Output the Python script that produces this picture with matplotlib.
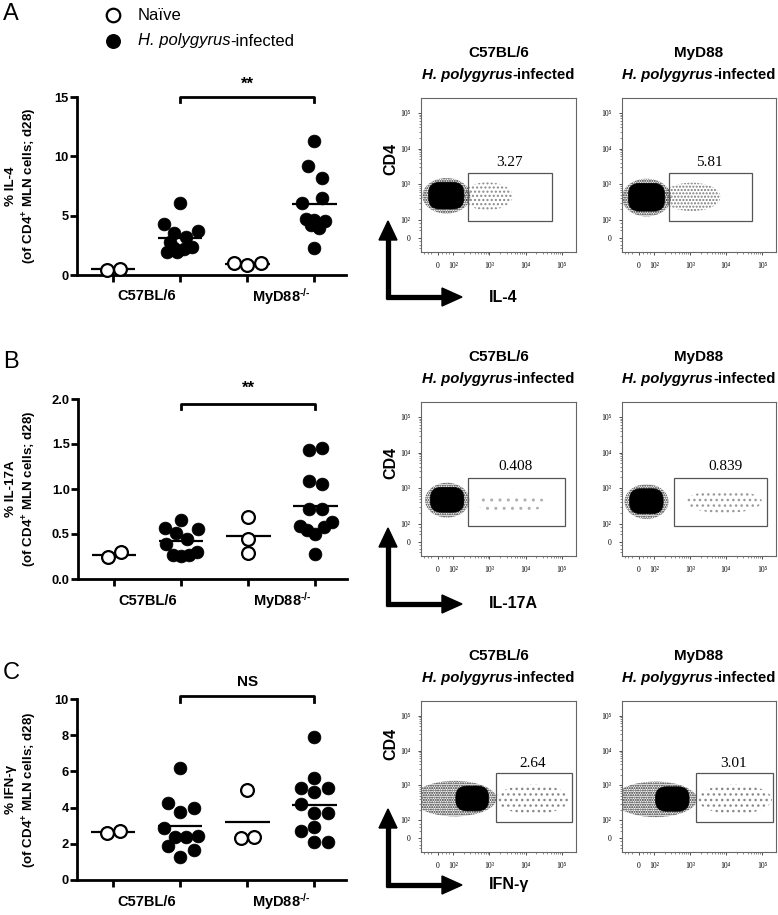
import matplotlib
matplotlib.use('Agg')
import matplotlib.pyplot as plt
from matplotlib.patches import Ellipse, Rectangle, Polygon, FancyBboxPatch
import numpy as np

plt.rcParams['font.family'] = ['Liberation Sans', 'DejaVu Sans']
plt.rcParams['mathtext.fontset'] = 'custom'
plt.rcParams['mathtext.rm'] = 'Liberation Sans:bold'
plt.rcParams['mathtext.it'] = 'Liberation Sans:bold:italic'
plt.rcParams['mathtext.bf'] = 'Liberation Sans:bold'
plt.rcParams['hatch.linewidth'] = 1.0

W, H = 778, 915

# ---------------- data ----------------
categories = ['C57BL/6', 'MyD88$^{\\text{-/-}}$']
legend_labels = ['Naïve', 'H. polygyrus', '-infected']

il4_c57_naive = [0.42, 0.53]
il4_c57_inf = [6.1, 4.3, 3.7, 3.5, 3.2, 2.8, 2.4, 2.3, 2.2, 1.9, 1.9]
il4_myd_naive = [1.0, 0.85, 1.05]
il4_myd_inf = [11.3, 9.2, 8.15, 6.45, 6.1, 4.75, 4.6, 4.55, 4.25, 4.0, 2.25]

il17_c57_naive = [0.24, 0.30]
il17_c57_inf = [0.66, 0.57, 0.555, 0.515, 0.45, 0.39, 0.30, 0.27, 0.255, 0.265]
il17_myd_naive = [0.69, 0.45, 0.29]
il17_myd_inf = [1.43, 1.46, 1.09, 1.055, 0.78, 0.78, 0.59, 0.545, 0.50, 0.58, 0.63, 0.28]

ifn_c57_naive = [2.58, 2.68]
ifn_c57_inf = [6.17, 4.24, 3.96, 3.77, 2.86, 2.4, 2.4, 2.45, 1.88, 1.66, 1.29]
ifn_myd_naive = [5.0, 2.3, 2.39]
ifn_myd_inf = [7.92, 5.62, 5.07, 5.1, 4.84, 4.2, 3.71, 3.71, 2.72, 2.94, 2.08, 2.12]

il4_ticks = [0, 5, 10, 15]
il17_ticks = [0.0, 0.5, 1.0, 1.5, 2.0]
ifn_ticks = [0, 2, 4, 6, 8, 10]

il4_sig, il17_sig, ifn_sig = '**', '**', 'NS'

gate_il4 = ['3.27', '5.81']
gate_il17 = ['0.408', '0.839']
gate_ifn = ['2.64', '3.01']
flow_strains = ['C57BL/6', 'MyD88']
flow_xlabels = ['IL-4', 'IL-17A', 'IFN-γ']
flow_ylabel = 'CD4'

# ---------------- layout helpers (positions only) ----------------
il4_jit = dict(cn=[-0.09, 0.10], ci=[0, -0.25, 0.26, -0.09, 0.09, -0.15, 0.17, -0.10, 0.06, -0.05, -0.20],
               mn=[-0.2, 0.0, 0.2], mi=[0, -0.09, 0.11, 0.11, -0.19, -0.13, 0, 0.15, -0.05, 0.07, 0])
il17_jit = dict(cn=[-0.1, 0.1], ci=[0, -0.25, 0.25, -0.08, 0.09, -0.23, 0.24, -0.12, 0, 0.12],
                mn=[0, 0, 0], mi=[-0.09, 0.1, -0.09, 0.1, -0.09, 0.1, -0.23, -0.12, 0, 0.13, 0.24, 0])
ifn_jit = dict(cn=[-0.1, 0.1], ci=[0, -0.19, 0.2, 0, -0.25, -0.08, 0.09, 0.26, -0.19, 0.2, 0],
               mn=[0, -0.1, 0.1], mi=[0, 0, -0.2, 0.2, 0, -0.2, 0, 0.2, -0.2, 0, 0, 0.2])

fig = plt.figure(figsize=(W / 100, H / 100), dpi=100)
renderer = fig.canvas.get_renderer()


def rect(x0, y0, x1, y1):
    return [x0 / W, 1 - y1 / H, (x1 - x0) / W, (y1 - y0) / H]


ov = fig.add_axes([0, 0, 1, 1], zorder=10)
ov.set_xlim(0, W)
ov.set_ylim(H, 0)
ov.axis('off')
ov.patch.set_alpha(0)


def two_part(x, y, s1, s2, size, weight, center=True):
    t1 = ov.text(x, y, s1, style='italic', ha='left', va='center', fontsize=size, fontweight=weight)
    t2 = ov.text(x, y, s2, ha='left', va='center', fontsize=size, fontweight=weight)
    w1 = t1.get_window_extent(renderer).width
    w2 = t2.get_window_extent(renderer).width
    x0 = x - (w1 + w2) / 2 if center else x
    t1.set_x(x0)
    t2.set_x(x0 + w1)


# ---------------- scatter panels ----------------
def scatter_panel(box, ylim, ticks, fmt, naive0, inf0, naive1, inf1, jit, sig, sig_y, br_top, br_end,
                  ylab):
    ax = fig.add_axes(rect(*box))
    ax.set_xlim(-0.54, 3.47)
    ax.set_ylim(*ylim)
    for s in ['top', 'right']:
        ax.spines[s].set_visible(False)
    for s in ['left', 'bottom']:
        ax.spines[s].set_linewidth(2.0)
    ax.set_xticks([0, 1, 2, 3])
    ax.set_xticklabels([])
    ax.set_yticks(ticks)
    ax.set_yticklabels([fmt.format(t) for t in ticks], fontsize=9.3, fontweight='bold')
    ax.tick_params(direction='out', length=5, width=2, pad=1)
    groups = [(naive0, jit['cn'], True), (inf0, jit['ci'], False),
              (naive1, jit['mn'], True), (inf1, jit['mi'], False)]
    for i, (vals, off, naive) in enumerate(groups):
        xs = [i + o for o in off]
        if naive:
            ax.scatter(xs, vals, s=85, facecolor='white', edgecolor='black', linewidth=1.6,
                       zorder=3, clip_on=False)
        else:
            ax.scatter(xs, vals, s=85, facecolor='black', edgecolor='black', linewidth=0.5,
                       zorder=3, clip_on=False)
        ax.hlines(np.mean(vals), i - 0.33, i + 0.33, color='black', lw=1.6, zorder=2, clip_on=False)
    ax.plot([1, 1, 3, 3], [br_end, br_top, br_top, br_end], color='black', lw=2, clip_on=False)
    ax.text(2, sig_y, sig, ha='center', va='center', fontsize=12 if sig != 'NS' else 11,
            fontweight='bold', clip_on=False)
    for i, c in enumerate(categories):
        ax.text(0.5 + 2 * i, -0.12, c, transform=ax.get_xaxis_transform(), ha='center', va='center',
                fontsize=10.5, fontweight='bold')
    cy = (box[1] + box[3]) / 2
    ov.text(22, cy, ylab, rotation=90, ha='center', va='center', fontsize=9.6, fontweight='bold',
            linespacing=1.25, multialignment='center')
    return ax


scatter_panel((77, 97, 346, 275), (0, 15), il4_ticks, '{:g}', il4_c57_naive, il4_c57_inf,
              il4_myd_naive, il4_myd_inf, il4_jit, il4_sig, 16.1, 15.0, 14.55,
              '% IL-4\n(of CD4$^{+}$ MLN cells; d28)')
scatter_panel((78, 399, 347, 579), (0, 2), il17_ticks, '{:.1f}', il17_c57_naive, il17_c57_inf,
              il17_myd_naive, il17_myd_inf, il17_jit, il17_sig, 2.12, 1.95, 1.89,
              '% IL-17A\n(of CD4$^{+}$ MLN cells; d28)')
scatter_panel((77, 699, 346, 880), (0, 10), ifn_ticks, '{:g}', ifn_c57_naive, ifn_c57_inf,
              ifn_myd_naive, ifn_myd_inf, ifn_jit, ifn_sig, 10.95, 10.18, 9.85,
              '% IFN-γ\n(of CD4$^{+}$ MLN cells; d28)')

# panel letters & legend
for letter, y in zip(['A', 'B', 'C'], [14, 362, 673]):
    ov.text(3, y, letter, ha='left', va='center', fontsize=17)
ov.scatter([113], [15], s=95, facecolor='white', edgecolor='black', linewidth=1.6)
ov.scatter([113], [41], s=95, facecolor='black', edgecolor='black')
ov.text(138, 15, legend_labels[0], ha='left', va='center', fontsize=12)
two_part(138, 41, legend_labels[1], legend_labels[2], 12, 'normal', center=False)

# ---------------- flow panels ----------------
xmaj = [1.58, 2, 3, 4, 5]
xlab = ['0', '10²', '10³', '10⁴', '10⁵']
ymaj = [1.49, 2, 3, 4, 5]
ylab_f = ['0', '10²', '10³', '10⁴', '10⁵']
minor = [k + np.log10(m) for k in (2, 3, 4) for m in range(2, 10)] + [1.2, 1.3, 1.4, 1.7, 1.8, 1.9]

# event-cloud shapes (u = decade position):
# dense core box (x0, y0, x1, y1), speckled fringe ellipse (cx, cy, w, h), gated events ellipse (cx, cy, w, h)
blob_shapes = {
    (0, 0): [(1.33, 2.30, 2.30, 3.05), (1.82, 2.67, 1.32, 1.0), (2.95, 2.66, 1.4, 0.78), '....', '#8a8a8a'],
    (0, 1): [(1.30, 2.24, 2.30, 3.02), (1.80, 2.62, 1.36, 1.06), (3.05, 2.64, 1.6, 0.8), '.....', '#7a7a7a'],
    (1, 0): [(1.38, 2.32, 2.30, 3.02), (1.84, 2.66, 1.22, 0.98), (3.6, 2.58, 1.9, 0.55), '..', '#b0b0b0'],
    (1, 1): [(1.33, 2.28, 2.26, 2.98), (1.80, 2.62, 1.22, 0.98), (3.95, 2.62, 2.1, 0.65), '...', '#9a9a9a'],
    (2, 0): [(2.08, 2.27, 2.98, 2.98), (2.05, 2.62, 2.3, 1.02), (4.2, 2.6, 2.0, 0.85), '...', '#8a8a8a'],
    (2, 1): [(2.05, 2.26, 2.98, 2.96), (2.05, 2.6, 2.3, 1.02), (4.25, 2.6, 2.05, 0.85), '...', '#8a8a8a'],
}
gate_boxes = [[(2.41, 1.95, 4.72, 3.31), (2.41, 1.95, 4.72, 3.31)],
              [(2.42, 1.94, 5.1, 3.28), (2.55, 1.94, 5.15, 3.28)],
              [(3.18, 1.95, 5.27, 3.35), (3.17, 1.95, 5.3, 3.35)]]
gate_label_x = [[3.57, 3.55], [3.72, 3.98], [4.21, 4.22]]
gate_vals = [gate_il4, gate_il17, gate_ifn]

rows_top = [98, 402, 701]
rows_bot = [252, 556, 852]
panel_x = [(421, 576), (622, 776)]
arrow_corner = [297, 604, 885]
arrow_tip = [221, 528, 809]
cd4_y = [159, 463, 744]


def rbox(ax, b, rs, **kw):
    x0, y0, x1, y1 = b
    p = FancyBboxPatch((x0 + rs, y0 + rs), (x1 - x0) - 2 * rs, (y1 - y0) - 2 * rs,
                       boxstyle=f'round,pad={rs},rounding_size={rs}', **kw)
    ax.add_patch(p)


for r in range(3):
    top, bot = rows_top[r], rows_bot[r]
    for p in range(2):
        x0, x1 = panel_x[p]
        ax = fig.add_axes(rect(x0, top, x1, bot))
        ax.set_xlim(1.12, 5.39)
        ax.set_ylim(1.09, 5.42)
        for s in ax.spines.values():
            s.set_color('#666666')
            s.set_linewidth(0.8)
        ax.set_xticks(xmaj)
        ax.set_xticklabels(xlab, family=['Liberation Serif', 'DejaVu Serif'], fontsize=5.5)
        ax.set_yticks(ymaj)
        ax.set_yticklabels(ylab_f, family=['Liberation Serif', 'DejaVu Serif'], fontsize=5.5)
        ax.set_xticks(minor, minor=True)
        ax.set_yticks(minor, minor=True)
        ax.tick_params(which='major', length=2.5, width=0.6, color='#333333', pad=5)
        ax.tick_params(which='minor', length=1.3, width=0.4, color='#333333')
        core, fringe, sparse, hatch, scol = blob_shapes[(r, p)]
        ax.add_patch(Ellipse(sparse[:2], sparse[2], sparse[3], facecolor='none', edgecolor=scol,
                             lw=0, hatch=hatch, zorder=1))
        ax.add_patch(Ellipse(fringe[:2], fringe[2], fringe[3], facecolor='none', edgecolor='#222222',
                             lw=0, hatch='.......', zorder=2))
        rbox(ax, core, 0.3, facecolor='black', edgecolor='black', lw=0.5, zorder=3)
        gx0, gy0, gx1, gy1 = gate_boxes[r][p]
        ax.add_patch(Rectangle((gx0, gy0), gx1 - gx0, gy1 - gy0, facecolor='none',
                               edgecolor='#555555', lw=0.9, zorder=4))
        ax.text(gate_label_x[r][p], 3.62, gate_vals[r][p], ha='center', va='center', fontsize=11,
                family=['Liberation Serif', 'DejaVu Serif'])
        cx = (x0 + x1) / 2
        ov.text(cx, top - 45, flow_strains[p], ha='center', va='center', fontsize=11, fontweight='bold')
        two_part(cx, top - 23, legend_labels[1], legend_labels[2], 10.8, 'bold')

    # L-shaped arrow
    xc, yc = 388, arrow_corner[r]
    ov.plot([xc, xc], [yc + 2, arrow_tip[r] + 16], color='black', lw=3.8, solid_capstyle='butt')
    ov.plot([xc - 1.9, 444], [yc, yc], color='black', lw=3.8, solid_capstyle='butt')
    ov.add_patch(Polygon([(xc - 9, arrow_tip[r] + 19), (xc + 9, arrow_tip[r] + 19), (xc, arrow_tip[r])],
                         closed=True, color='black'))
    ov.add_patch(Polygon([(442, yc - 9), (442, yc + 9), (462, yc)], closed=True, color='black'))
    ov.text(489, yc, flow_xlabels[r], ha='left', va='center', fontsize=11.5, fontweight='bold')
    ov.text(391, cd4_y[r], flow_ylabel, rotation=90, ha='center', va='center', fontsize=11.5,
            fontweight='bold')

fig.savefig('out.png', dpi=100)
